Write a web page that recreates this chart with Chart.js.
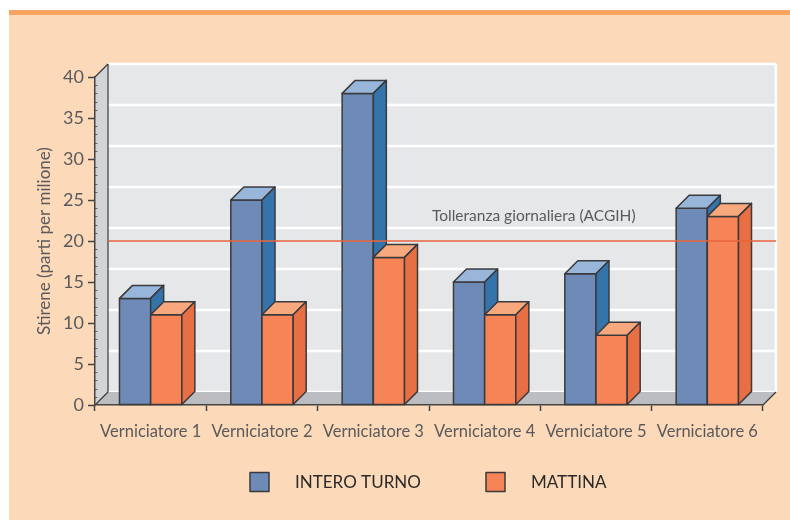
<!DOCTYPE html>
<html>
<head>
<meta charset="utf-8">
<script src="https://cdn.jsdelivr.net/npm/chart.js@4/dist/chart.umd.min.js"></script>
<style>
  html, body { margin: 0; padding: 0; background: #fff; }
</style>
</head>
<body>
<canvas id="chart" width="790" height="520"></canvas>
<script>
// Data
const categories = ["Verniciatore 1", "Verniciatore 2", "Verniciatore 3", "Verniciatore 4", "Verniciatore 5", "Verniciatore 6"];
const interoTurno = [13, 25, 38, 15, 16, 24];
const mattina = [11, 11, 18, 11, 8.5, 23];
const yTicks = [0, 5, 10, 15, 20, 25, 30, 35, 40];
const tolleranza = 20;
const tolleranzaLabel = "Tolleranza giornaliera (ACGIH)";

const FONT = "Lato";
const GREY_TEXT = "#5a5a5c";
const OUTLINE = "#3a3a3c";
const DEPTH = 13; // 3d offset in px

function poly(ctx, pts, fill, stroke) {
    ctx.beginPath();
    ctx.moveTo(pts[0][0], pts[0][1]);
    for (let i = 1; i < pts.length; i++) ctx.lineTo(pts[i][0], pts[i][1]);
    ctx.closePath();
    if (fill) { ctx.fillStyle = fill; ctx.fill(); }
    if (stroke) { ctx.strokeStyle = stroke; ctx.stroke(); }
}

function seg(ctx, x1, y1, x2, y2) {
    ctx.beginPath();
    ctx.moveTo(x1, y1);
    ctx.lineTo(x2, y2);
    ctx.stroke();
}

// background, walls and floor of the pseudo 3d box
const scenePlugin = {
    id: "scene",
    beforeDraw(chart) {
        const ctx = chart.ctx;
        const { left, right, top, bottom } = chart.chartArea;
        const yScale = chart.scales.y;
        const d = DEPTH;
        ctx.save();
        ctx.fillStyle = "#ffffff";
        ctx.fillRect(0, 0, chart.width, chart.height);
        ctx.fillStyle = "#fcd9b9";
        ctx.fillRect(9, 10, chart.width - 9, chart.height - 10);
        ctx.fillStyle = "#f9a463";
        ctx.fillRect(9, 10, chart.width - 9, 5);

        // back wall
        ctx.fillStyle = "#e6e7e9";
        ctx.fillRect(left + d, top - d, right - left, bottom - top);
        ctx.strokeStyle = "#ffffff";
        ctx.lineWidth = 2.5;
        yTicks.forEach((v) => {
            const py = yScale.getPixelForValue(v) - d;
            seg(ctx, left + d, py, right + d, py);
        });
        seg(ctx, right + d, top - d, right + d, bottom - d);

        // left wall and floor
        ctx.lineWidth = 1.2;
        poly(ctx, [[left, top], [left + d, top - d], [left + d, bottom - d], [left, bottom]], "#d3d4d6");
        poly(ctx, [[left, bottom], [left + d, bottom - d], [right + d, bottom - d], [right, bottom]], "#bcbdc1");
        ctx.strokeStyle = OUTLINE;
        seg(ctx, left, top, left + d, top - d);
        seg(ctx, left + d, top - d, left + d, bottom - d);
        seg(ctx, left, bottom, left + d, bottom - d);
        seg(ctx, right, bottom, right + d, bottom - d);

        // minor ticks on the y axis
        ctx.strokeStyle = "#666";
        ctx.lineWidth = 1;
        for (let v = yScale.min; v <= yScale.max; v++) {
            if (v % 5 === 0) continue;
            const py = Math.round(yScale.getPixelForValue(v)) + 0.5;
            seg(ctx, left, py, left + 2.5, py);
        }
        ctx.restore();
    },
    afterDatasetsDraw(chart) {
        const ctx = chart.ctx;
        const d = DEPTH;
        ctx.save();
        ctx.lineWidth = 1.5;
        ctx.lineJoin = "round";
        categories.forEach((cat, idx) => {
            chart.data.datasets.forEach((ds, di) => {
                const bar = chart.getDatasetMeta(di).data[idx];
                const { x, y, base, width } = bar.getProps(["x", "y", "base", "width"], true);
                const l = x - width / 2;
                const r = x + width / 2;
                // front, top, side
                poly(ctx, [[l, y], [r, y], [r, base], [l, base]], ds.backgroundColor, OUTLINE);
                poly(ctx, [[l, y], [l + d, y - d], [r + d, y - d], [r, y]], ds.topColor, OUTLINE);
                poly(ctx, [[r, y], [r + d, y - d], [r + d, base - d], [r, base]], ds.sideColor, OUTLINE);
            });
        });

        // tolerance line
        const { left, right } = chart.chartArea;
        const ty = chart.scales.y.getPixelForValue(tolleranza);
        ctx.strokeStyle = "#e8643c";
        ctx.lineWidth = 1.5;
        seg(ctx, left + d, ty, right + d, ty);
        ctx.fillStyle = GREY_TEXT;
        ctx.font = "15.5px " + FONT;
        ctx.textAlign = "left";
        ctx.textBaseline = "middle";
        ctx.fillText(tolleranzaLabel, 432, ty - 25);

        // legend
        const ly = 482;
        ctx.font = "17px " + FONT;
        ctx.lineWidth = 1.5;
        chart.data.datasets.forEach((ds, di) => {
            const bx = di === 0 ? 250 : 486;
            poly(ctx, [[bx, ly - 9.5], [bx + 19, ly - 9.5], [bx + 19, ly + 9.5], [bx, ly + 9.5]], ds.backgroundColor, "#3a3a3c");
            ctx.fillStyle = "#2a2a2a";
            ctx.fillText(ds.label, bx + 45, ly + 1);
        });
        ctx.restore();
    },
};

new Chart(document.getElementById("chart"), {
    type: "bar",
    data: {
        labels: categories,
        datasets: [
            {
                label: "INTERO TURNO",
                data: interoTurno,
                backgroundColor: "#6e8bb8",
                topColor: "#97b6da",
                sideColor: "#3474ab",
                borderWidth: 0,
                categoryPercentage: 0.56,
                barPercentage: 1,
            },
            {
                label: "MATTINA",
                data: mattina,
                backgroundColor: "#f68456",
                topColor: "#f8a87d",
                sideColor: "#e86e43",
                borderWidth: 0,
                categoryPercentage: 0.56,
                barPercentage: 1,
            },
        ],
    },
    options: {
        responsive: false,
        animation: false,
        layout: { padding: { top: 77, right: 27, left: 0, bottom: 0 } },
        plugins: {
            legend: { display: false },
            tooltip: { enabled: false },
        },
        scales: {
            x: {
                afterFit(scale) { scale.height = 115; },
                ticks: { color: GREY_TEXT, font: { family: FONT, size: 16.5 }, padding: 11 },
                grid: { offset: true, drawOnChartArea: false, tickLength: 6, tickColor: "#444", tickWidth: 1.5 },
                border: { display: true, color: "#444", width: 1.5 },
            },
            y: {
                min: 0,
                max: 40,
                afterFit(scale) { scale.width = 95; },
                afterBuildTicks(scale) { scale.ticks = yTicks.map((v) => ({ value: v })); },
                ticks: { color: GREY_TEXT, font: { family: FONT, size: 18 }, padding: 4 },
                grid: { drawOnChartArea: false, tickLength: 7, tickColor: "#444", tickWidth: 1.5 },
                border: { display: true, color: "#444", width: 1.5 },
                title: {
                    display: true,
                    text: "Stirene (parti per milione)",
                    color: GREY_TEXT,
                    font: { family: FONT, size: 17 },
                    padding: { top: 34, bottom: 0 },
                },
            },
        },
    },
    plugins: [scenePlugin],
});
</script>
</body>
</html>
